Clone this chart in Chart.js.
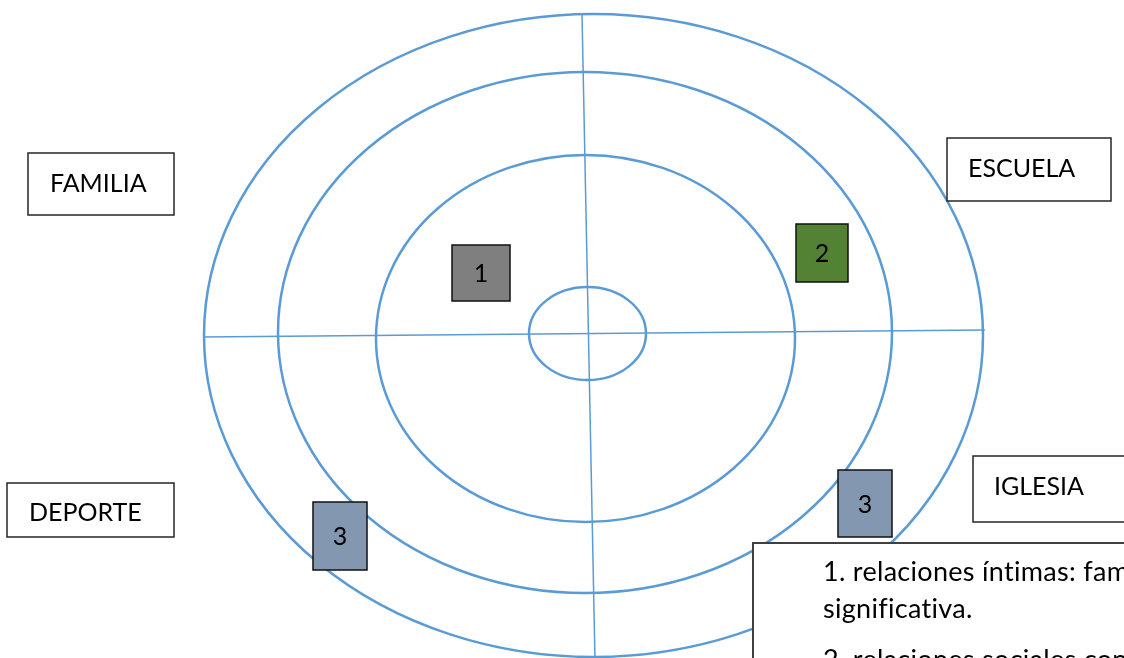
<!DOCTYPE html>
<html>
<head>
<meta charset="utf-8">
<script src="https://cdn.jsdelivr.net/npm/chart.js@4.4.4/dist/chart.umd.min.js"></script>
<style>
  html, body { margin: 0; padding: 0; background: #fff; }
  canvas { display: block; }
</style>
</head>
<body>
<canvas id="chart" width="1124" height="658"></canvas>
<script>
// data
const ringLevels = [0, 1, 2, 3];
const sectors = ['FAMILIA', 'ESCUELA', 'DEPORTE', 'IGLESIA'];
const nodeLevels = [1, 2, 3, 3];
const legendLines = [
  '1. relaciones íntimas: familia más cercana y amistad',
  'significativa.',
  '2. relaciones sociales con compañeros y vecinos'
];

// layout (data units == pixels here)
const ringGeom = [
  { cx: 587.5, cy: 333.5, rx: 58.5, ry: 46.5 },
  { cx: 585.5, cy: 338.5, rx: 209.5, ry: 183.5 },
  { cx: 585, cy: 332.5, rx: 307, ry: 260.5 },
  { cx: 593.5, cy: 335.5, rx: 389.5, ry: 321.5 }
];
const axisLines = [
  [{ x: 203, y: 337 }, { x: 985, y: 330 }],
  [{ x: 582, y: 14 }, { x: 595, y: 660 }]
];
const sectorBoxes = [
  { box: [28, 153, 174, 215], tx: 50, ty: 192 },
  { box: [947, 138, 1111, 201], tx: 968, ty: 177 },
  { box: [7, 483, 174, 537], tx: 29, ty: 521 },
  { box: [973, 456, 1140, 522], tx: 994, ty: 495 }
];
const nodeBoxes = [
  { box: [452, 245, 510, 301], fill: '#7f7f7f' },
  { box: [796, 224, 848, 282], fill: '#548235' },
  { box: [313, 502, 367, 570], fill: '#8497b0' },
  { box: [838, 470, 892, 537], fill: '#8497b0' }
];
const legendBox = { box: [753, 543, 1140, 680], tx: 823, ty: [581, 618, 669] };

const blue = '#5b9bd5';
const FONT = '25px Lato, "Open Sans", sans-serif';
const LEGEND_FONT = '27px Lato, "Open Sans", sans-serif';

const ringsPlugin = {
  id: 'rings',
  beforeDatasetsDraw(chart) {
    const { ctx, scales: { x, y } } = chart;
    ctx.save();
    ctx.strokeStyle = blue;
    ctx.lineWidth = 2.5;
    ringLevels.forEach(lvl => {
      const g = ringGeom[lvl];
      const cx = x.getPixelForValue(g.cx), cy = y.getPixelForValue(g.cy);
      const rx = x.getPixelForValue(g.cx + g.rx) - cx;
      const ry = y.getPixelForValue(g.cy + g.ry) - cy;
      ctx.beginPath();
      ctx.ellipse(cx, cy, Math.abs(rx), Math.abs(ry), 0, 0, Math.PI * 2);
      ctx.stroke();
    });
    ctx.restore();
  }
};

function rectPx(chart, b) {
  const { x, y } = chart.scales;
  const x0 = x.getPixelForValue(b[0]), y0 = y.getPixelForValue(b[1]);
  const x1 = x.getPixelForValue(b[2]), y1 = y.getPixelForValue(b[3]);
  return [x0, y0, x1 - x0, y1 - y0];
}

const boxesPlugin = {
  id: 'boxes',
  afterDatasetsDraw(chart) {
    const { ctx, scales: { x, y } } = chart;
    ctx.save();
    ctx.font = FONT;
    ctx.textBaseline = 'alphabetic';

    // sector labels
    sectors.forEach((name, i) => {
      const s = sectorBoxes[i];
      const r = rectPx(chart, s.box);
      ctx.fillStyle = '#fff';
      ctx.fillRect(...r);
      ctx.strokeStyle = '#262626';
      ctx.lineWidth = 1.5;
      ctx.strokeRect(...r);
      ctx.fillStyle = '#000';
      ctx.textAlign = 'left';
      ctx.fillText(name, x.getPixelForValue(s.tx), y.getPixelForValue(s.ty));
    });

    // level squares
    nodeLevels.forEach((lvl, i) => {
      const n = nodeBoxes[i];
      const r = rectPx(chart, n.box);
      ctx.fillStyle = n.fill;
      ctx.fillRect(...r);
      ctx.strokeStyle = '#111';
      ctx.lineWidth = 1.5;
      ctx.strokeRect(...r);
      ctx.fillStyle = '#000';
      ctx.textAlign = 'center';
      ctx.textBaseline = 'middle';
      ctx.fillText(String(lvl), r[0] + r[2] / 2, r[1] + r[3] / 2 + 1);
      ctx.textBaseline = 'alphabetic';
    });

    // legend
    const r = rectPx(chart, legendBox.box);
    ctx.fillStyle = '#fff';
    ctx.fillRect(...r);
    ctx.strokeStyle = '#404040';
    ctx.lineWidth = 2;
    ctx.strokeRect(...r);
    ctx.fillStyle = '#000';
    ctx.textAlign = 'left';
    ctx.font = LEGEND_FONT;
    ctx.letterSpacing = '0.3px';
    legendLines.forEach((t, i) => {
      ctx.fillText(t, x.getPixelForValue(legendBox.tx), y.getPixelForValue(legendBox.ty[i]));
    });
    ctx.restore();
  }
};

new Chart(document.getElementById('chart'), {
  type: 'scatter',
  data: {
    datasets: axisLines.map(pts => ({
      data: pts,
      showLine: true,
      borderColor: blue,
      borderWidth: 1.5,
      pointRadius: 0,
      fill: false
    }))
  },
  options: {
    responsive: false,
    animation: false,
    devicePixelRatio: 1,
    layout: { padding: 0 },
    plugins: { legend: { display: false }, tooltip: { enabled: false } },
    scales: {
      x: { type: 'linear', min: 0, max: 1124, display: false },
      y: { type: 'linear', min: 0, max: 658, reverse: true, display: false }
    }
  },
  plugins: [ringsPlugin, boxesPlugin]
});
</script>
</body>
</html>
